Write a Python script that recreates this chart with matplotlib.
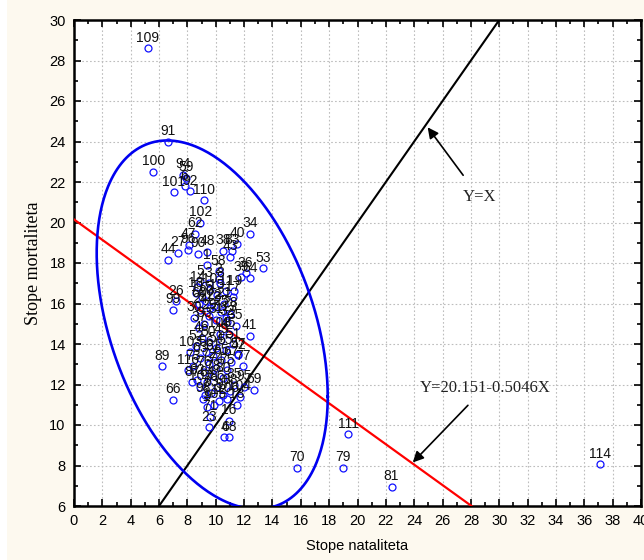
import numpy as np
import matplotlib
matplotlib.use('Agg')
import matplotlib.pyplot as plt
from matplotlib.patches import Rectangle
from matplotlib.ticker import MultipleLocator

# --- data (x = birth rate, y = death rate) --------------------------------------
labels = [109, 91, 100, 94, 59, 101, 6, 92, 110, 102, 62, 47, 27, 44, 96, 90,
          48, 38, 83, 43, 40, 34, 58, 36, 64, 39, 53, 3, 2, 26, 99, 18, 60, 41,
          89, 66, 103, 116, 9, 7, 71, 23, 16, 4, 68, 13, 69, 12, 111, 79, 81,
          114, 70,
          1, 5, 8, 10, 11, 14, 15, 17, 19, 20, 21, 22, 24, 25, 28, 29, 30, 31,
          32, 33, 35, 37, 42, 45, 46, 49, 50, 51, 52, 54, 55, 56, 57, 61, 63,
          65, 67, 72, 73, 74, 75, 76, 77, 78, 80, 82, 84, 85, 86, 87, 88, 93,
          95, 97, 98, 104, 105, 106, 107, 108, 112, 113, 115]
natal = [5.2, 6.6, 5.6, 7.7, 7.9, 7.05, 7.8, 8.2, 9.2, 8.9, 8.55, 8.1, 7.35,
         6.65, 8.05, 8.75, 9.4, 10.5, 11.15, 11.0, 11.5, 12.4, 10.2, 12.1, 12.45,
         11.8, 13.35, 9.5, 10.2, 7.2, 6.95, 8.6, 8.8, 12.4, 6.2, 7.0, 8.2, 8.05,
         9.4, 9.25, 9.6, 9.5, 10.9, 10.6, 10.9, 11.5, 12.7, 10.2, 19.35, 19.0,
         22.4, 37.1, 15.7,
         9.4, 8.9, 10.3, 9.6, 10.7, 8.7, 10.1, 11.2, 11.3, 9.3, 10.6, 9.9, 8.9,
         10.4, 11.0, 9.5, 8.5, 10.0, 10.8, 9.2, 11.4, 8.8, 11.6, 10.9, 9.0, 10.4,
         9.5, 11.2, 8.6, 10.0, 10.7, 9.3, 11.6, 9.8, 8.9, 10.4, 11.1, 9.5, 8.4,
         10.0, 10.8, 9.2, 11.9, 9.8, 10.5, 8.7, 9.4, 11.3, 10.1, 8.3, 11.0, 9.7,
         12.0, 10.5, 9.1, 11.7, 9.9, 10.8, 8.9, 10.3, 9.6, 10.7, 9.0]
mortal = [28.6, 24.0, 22.5, 22.35, 22.2, 21.5, 21.8, 21.55, 21.1, 20.0, 19.45,
          18.9, 18.5, 18.15, 18.65, 18.45, 18.55, 18.6, 18.6, 18.3, 18.95, 19.45,
          17.6, 17.5, 17.25, 17.3, 17.75, 17.0, 17.2, 16.1, 15.7, 16.5, 16.0,
          14.4, 12.9, 11.25, 13.6, 12.7, 10.9, 11.5, 10.4, 9.9, 10.2, 9.4, 9.4,
          11.0, 11.75, 11.2, 9.55, 7.9, 6.95, 8.05, 7.9,
          17.9, 17.1, 17.0, 16.7, 16.6, 16.8, 16.4, 16.3, 16.6, 16.1, 16.0, 15.9,
          15.7, 15.6, 15.5, 15.4, 15.3, 15.2, 15.1, 15.0, 14.9, 14.8, 13.45, 14.5,
          14.3, 14.2, 14.1, 14.0, 13.9, 13.8, 13.7, 13.6, 13.5, 13.4, 13.3, 13.2,
          13.1, 13.0, 12.9, 12.8, 12.7, 12.6, 12.9, 12.4, 12.3, 12.2, 12.1, 12.0,
          11.9, 12.1, 11.7, 11.6, 11.9, 11.5, 11.3, 11.4, 11.0, 11.3, 11.9, 14.5,
          15.8, 15.3, 16.3]

# regression line Y = a + bX
REG_A, REG_B = 20.151, -0.5046
# confidence ellipse: centre, half-extent in x and y, phase between x and y
ELL_CX, ELL_CY = 9.75, 14.95
ELL_RX, ELL_RY = 8.15, 9.1
ELL_COS_PHI = -0.39

BG = '#fdf9ef'

fig = plt.figure(figsize=(6.44, 5.6), dpi=100, facecolor='white')
fig.patches.append(Rectangle((7 / 644, 0), 1, 1, transform=fig.transFigure,
                             facecolor=BG, edgecolor='none', zorder=-10))
ax = fig.add_axes([74 / 644, 1 - 506 / 560, 567 / 644, 486 / 560])
ax.set_facecolor('white')

# lines
xr = np.linspace(0, 40, 200)
ax.plot(xr, REG_A + REG_B * xr, color='#ff0000', lw=1.6, zorder=3)
ax.plot(xr, xr, color='black', lw=1.5, zorder=3)

# ellipse
t = np.linspace(0, 2 * np.pi, 400)
phi = np.arccos(ELL_COS_PHI)
ax.plot(ELL_CX + ELL_RX * np.cos(t), ELL_CY + ELL_RY * np.cos(t - phi),
        color='#0000f0', lw=1.9, zorder=3)

# points
ax.plot(natal, mortal, 'o', ls='none', mfc='none', mec='#1010ff', ms=5,
        mew=0.9, zorder=4)
for lab, x, y in zip(labels, natal, mortal):
    ax.annotate(str(lab), (x, y), xytext=(0, 2.5), textcoords='offset points',
                ha='center', va='bottom', fontsize=10, family='Liberation Sans',
                color='#111111', zorder=5)

# annotations
ax.annotate('Y=X', xy=(24.95, 24.7), xytext=(28.6, 21.25), ha='center',
            va='center', fontsize=12, family='Liberation Serif', color='#222222',
            arrowprops=dict(arrowstyle='-|>', color='black', lw=1.2,
                            mutation_scale=16, shrinkA=10, shrinkB=0))
ax.annotate('Y=20.151-0.5046X', xy=(23.9, 8.15), xytext=(29.0, 11.85),
            ha='center', va='center', fontsize=12, family='Liberation Serif',
            color='#222222',
            arrowprops=dict(arrowstyle='-|>', color='black', lw=1.2,
                            mutation_scale=16, shrinkA=7, shrinkB=0))

ax.set_xlim(0, 40)
ax.set_ylim(6, 30)
ax.xaxis.set_major_locator(MultipleLocator(2))
ax.xaxis.set_minor_locator(MultipleLocator(1))
ax.yaxis.set_major_locator(MultipleLocator(2))
ax.yaxis.set_minor_locator(MultipleLocator(1))
ax.tick_params(which='both', direction='in', top=True, right=True,
               labelsize=10.5, width=1.2, pad=6)
ax.tick_params(which='major', length=5)
ax.tick_params(which='minor', length=3)
for lab in ax.get_xticklabels() + ax.get_yticklabels():
    lab.set_family('Liberation Sans')
for s in ax.spines.values():
    s.set_linewidth(1.8)
ax.grid(True, which='major', ls=(0, (1.5, 2)), color='#bdbdbd', lw=0.8)
ax.set_axisbelow(True)

ax.set_xlabel('Stope nataliteta', fontsize=10.5, family='Liberation Sans',
              labelpad=8)
ax.set_ylabel('Stope mortaliteta', fontsize=13, family='Liberation Serif',
              labelpad=5)

fig.savefig('out.png', dpi=100, facecolor=fig.get_facecolor())
